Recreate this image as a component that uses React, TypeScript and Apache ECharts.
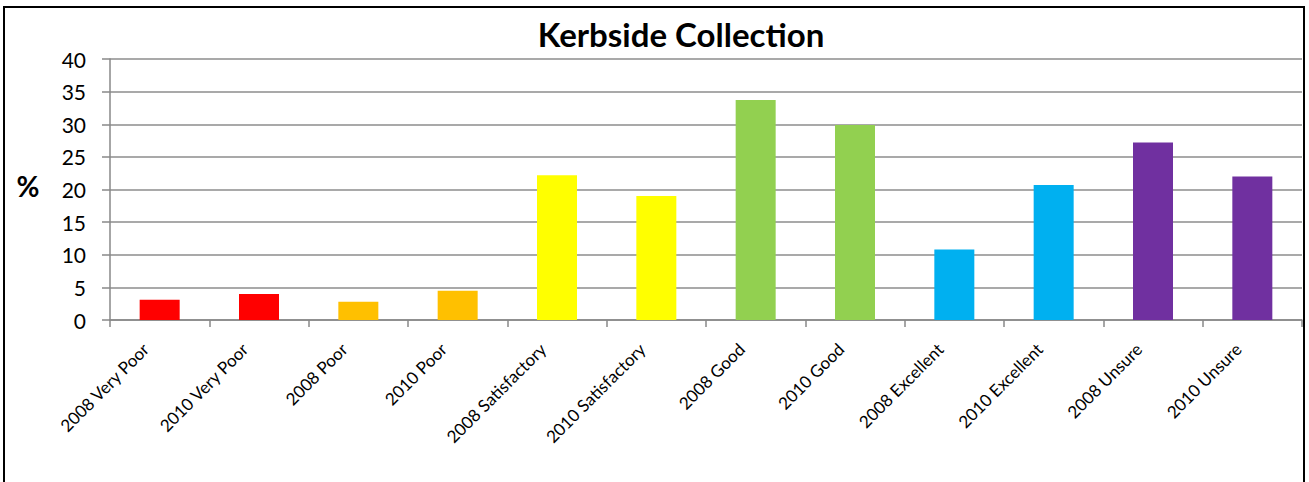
import React, { useEffect, useRef } from "react";
import * as echarts from "echarts";

const categories = [
  "2008 Very Poor",
  "2010 Very Poor",
  "2008 Poor",
  "2010 Poor",
  "2008 Satisfactory",
  "2010 Satisfactory",
  "2008 Good",
  "2010 Good",
  "2008 Excellent",
  "2010 Excellent",
  "2008 Unsure",
  "2010 Unsure",
];
const values = [3.1, 4.0, 2.8, 4.5, 22.2, 19.0, 33.7, 29.9, 10.8, 20.7, 27.2, 22.0];
const barColors = [
  "#FF0000", "#FF0000",
  "#FFC000", "#FFC000",
  "#FFFF00", "#FFFF00",
  "#92D050", "#92D050",
  "#00B0F0", "#00B0F0",
  "#7030A0", "#7030A0",
];
const yTicks = { min: 0, max: 40, interval: 5 };
const titleText = "Kerbside Collection";
const yAxisName = "%";

const FONT = "Lato, 'Open Sans', sans-serif";

export default function App() {
  const ref = useRef<HTMLDivElement>(null);
  useEffect(() => {
    if (!ref.current) return;
    const chart = echarts.init(ref.current, undefined, { renderer: "svg" });
    chart.setOption({
      animation: false,
      backgroundColor: "#ffffff",
      textStyle: { fontFamily: FONT },
      grid: { left: 110, right: 7, top: 59, bottom: 162, containLabel: false },
      graphic: [
        {
          type: "polyline",
          shape: { points: [[4, 482], [4, 7], [1304, 7], [1304, 482]] },
          style: { stroke: "#000", lineWidth: 2, fill: "none" },
          z: 100,
        },
        {
          type: "text",
          style: {
            x: 681,
            y: 34,
            text: titleText,
            textAlign: "center",
            textVerticalAlign: "middle",
            font: `bold 33px ${FONT}`,
            fill: "#000",
          },
        },
        {
          type: "text",
          style: {
            x: 28,
            y: 186,
            text: yAxisName,
            textAlign: "center",
            textVerticalAlign: "middle",
            font: `bold 28px ${FONT}`,
            fill: "#000",
          },
        },
      ],
      xAxis: {
        type: "category",
        data: categories,
        axisLine: { lineStyle: { color: "#888888", width: 1.5 } },
        axisTick: { show: true, length: 7, lineStyle: { color: "#888888", width: 1.5 } },
        axisLabel: {
          rotate: 45,
          margin: 12,
          color: "#000",
          fontSize: 17,
          fontFamily: FONT,
          interval: 0,
          padding: [0, 20, 6, 0],
        },
      },
      yAxis: {
        type: "value",
        min: yTicks.min,
        max: yTicks.max,
        interval: yTicks.interval,
        axisLine: { show: true, lineStyle: { color: "#888888", width: 1.5 } },
        axisTick: { show: true, length: 8, lineStyle: { color: "#888888", width: 1.5 } },
        splitLine: { show: true, lineStyle: { color: "#8c8c8c", width: 1.5 } },
        axisLabel: { color: "#000", fontSize: 21, margin: 24, fontFamily: FONT },
      },
      series: [
        {
          type: "bar",
          barWidth: 40,
          data: values.map((v, i) => ({ value: v, itemStyle: { color: barColors[i] } })),
        },
      ],
    });
    return () => chart.dispose();
  }, []);
  return (
    <div
      ref={ref}
      style={{ position: "absolute", left: 0, top: 0, width: 1309, height: 482 }}
    />
  );
}
